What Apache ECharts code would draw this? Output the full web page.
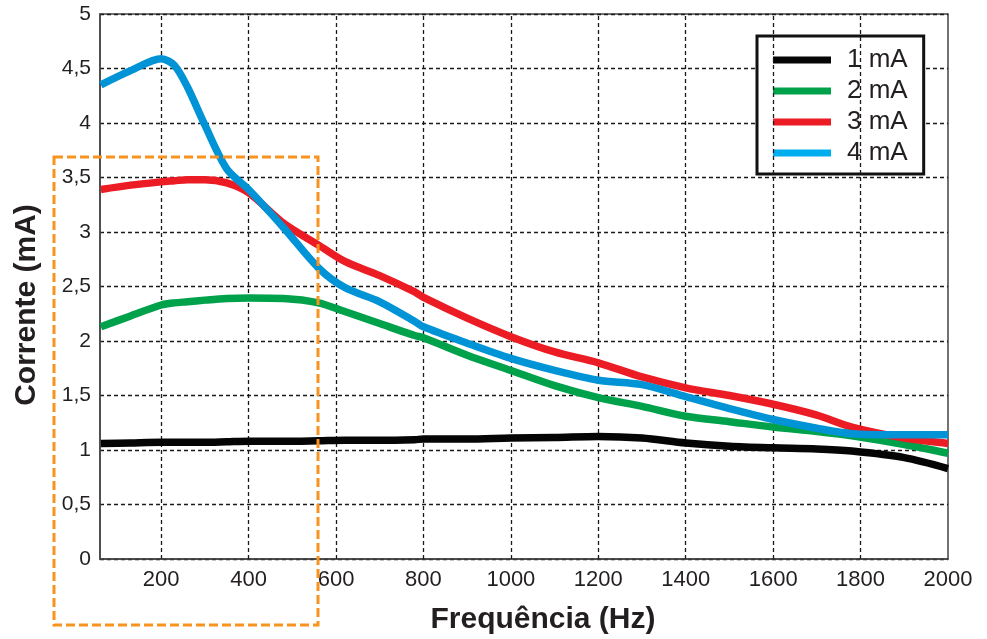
<!DOCTYPE html>
<html>
<head>
<meta charset="utf-8">
<script src="https://cdn.jsdelivr.net/npm/echarts@6/dist/echarts.min.js"></script>
<style>
  html, body { margin: 0; padding: 0; background: #fff; }
  #chart { width: 987px; height: 639px; }
</style>
</head>
<body>
<div id="chart"></div>
<script>
// Frequency sample points (Hz) shared by all four curves
const freq = [62, 130, 200, 230, 260, 300, 350, 400, 480, 560, 620, 700, 780, 800, 900, 1000, 1100, 1200, 1300, 1400, 1500, 1600, 1700, 1780, 1900, 2000];

// Measured current (mA) for each nominal setting
const i1mA = [1.06, 1.065, 1.07, 1.07, 1.07, 1.07, 1.075, 1.08, 1.08, 1.085, 1.09, 1.09, 1.095, 1.10, 1.10, 1.11, 1.115, 1.125, 1.11, 1.065, 1.035, 1.02, 1.01, 0.99, 0.93, 0.83];
const i2mA = [2.13, 2.23, 2.33, 2.35, 2.36, 2.375, 2.39, 2.395, 2.39, 2.35, 2.27, 2.16, 2.05, 2.03, 1.87, 1.73, 1.59, 1.48, 1.40, 1.31, 1.26, 1.21, 1.17, 1.13, 1.05, 0.97];
const i3mA = [3.39, 3.43, 3.46, 3.47, 3.48, 3.48, 3.45, 3.36, 3.08, 2.88, 2.73, 2.60, 2.45, 2.40, 2.21, 2.04, 1.90, 1.80, 1.67, 1.57, 1.50, 1.42, 1.32, 1.21, 1.11, 1.06];
const i4mA = [4.35, 4.48, 4.59, 4.53, 4.33, 3.98, 3.58, 3.39, 3.04, 2.67, 2.49, 2.36, 2.18, 2.13, 1.98, 1.84, 1.73, 1.64, 1.60, 1.49, 1.38, 1.28, 1.20, 1.15, 1.14, 1.14];

const seriesNames = ['1 mA', '2 mA', '3 mA', '4 mA'];
const seriesColors = ['#050505', '#00a14b', '#ec1c24', '#0093d6'];
const legendColors = ['#050505', '#00a14b', '#ec1c24', '#00aeef'];

// Axis tick values
const xTicks = [200, 400, 600, 800, 1000, 1200, 1400, 1600, 1800, 2000];
const yTicks = [0, 0.5, 1, 1.5, 2, 2.5, 3, 3.5, 4, 4.5, 5];

const xName = 'Frequência (Hz)';
const yName = 'Corrente (mA)';

const valuesList = [i1mA, i2mA, i3mA, i4mA];
const pairs = v => freq.map((f, k) => [f, v[k]]);

const fontFamily = 'Liberation Sans, Arial, sans-serif';
const gridDash = { color: '#1a1a1a', width: 1.3, type: [4, 3] };

const chart = echarts.init(document.getElementById('chart'), null, { renderer: 'canvas' });

const series = valuesList.map((v, k) => ({
  name: seriesNames[k],
  type: 'line',
  data: pairs(v),
  showSymbol: false,
  smooth: 0.3,
  color: legendColors[k],
  lineStyle: { width: 7.5, color: seriesColors[k], cap: 'butt', join: 'round' },
  itemStyle: { color: legendColors[k] },
  z: 5 + k
}));

// Vertical dashed grid lines at the labelled frequencies
series.push({
  name: 'vgrid',
  type: 'line',
  data: [],
  silent: true,
  markLine: {
    silent: true,
    symbol: 'none',
    label: { show: false },
    lineStyle: gridDash,
    data: xTicks.filter(t => t < 2000).map(t => ({ xAxis: t }))
  },
  z: 1
});

chart.setOption({
  animation: false,
  backgroundColor: '#fff',
  grid: {
    left: 100, right: 39, top: 14, bottom: 80,
    show: true, borderColor: '#444', borderWidth: 1.5, backgroundColor: 'transparent'
  },
  xAxis: {
    type: 'value',
    min: 60, max: 2000,
    axisLine: { show: true, lineStyle: { color: '#444', width: 1.5 } },
    axisTick: { show: false, customValues: xTicks },
    splitLine: { show: false },
    axisLabel: {
      customValues: xTicks,
      formatter: v => String(v),
      color: '#231f20', fontSize: 22, fontFamily: fontFamily,
      margin: 10
    }
  },
  yAxis: {
    type: 'value',
    min: yTicks[0], max: yTicks[yTicks.length - 1], interval: 0.5,
    axisLine: { show: true, lineStyle: { color: '#444', width: 1.5 } },
    axisTick: { show: false },
    splitLine: { show: true, lineStyle: gridDash },
    axisLabel: {
      color: '#231f20', fontSize: 21, fontFamily: fontFamily,
      margin: 9,
      formatter: v => String(v).replace('.', ',')
    }
  },
  legend: {
    data: seriesNames,
    left: 757, top: 36,
    orient: 'vertical',
    backgroundColor: '#fff',
    borderColor: '#111', borderWidth: 3,
    padding: [11, 16, 8, 16],
    itemWidth: 58, itemHeight: 7, itemGap: 5,
    icon: 'rect',
    selectedMode: false,
    textStyle: {
      color: '#231f20', fontSize: 26, lineHeight: 26,
      fontFamily: fontFamily,
      padding: [0, 0, 0, 11]
    }
  },
  graphic: [
    {
      type: 'text', x: 543, y: 620,
      style: {
        text: xName, fill: '#231f20', fontSize: 30, fontWeight: 'bold',
        fontFamily: fontFamily,
        textAlign: 'center', textVerticalAlign: 'middle'
      }
    },
    {
      type: 'text', x: 27, y: 305, rotation: Math.PI / 2,
      style: {
        text: yName, fill: '#231f20', fontSize: 30, fontWeight: 'bold',
        fontFamily: fontFamily,
        textAlign: 'center', textVerticalAlign: 'middle'
      }
    },
    {
      type: 'rect', z: 100,
      shape: { x: 54, y: 157, width: 264, height: 468 },
      style: { fill: 'none', stroke: '#f7931e', lineWidth: 3, lineDash: [9, 4] }
    }
  ],
  series: series
});
</script>
</body>
</html>
